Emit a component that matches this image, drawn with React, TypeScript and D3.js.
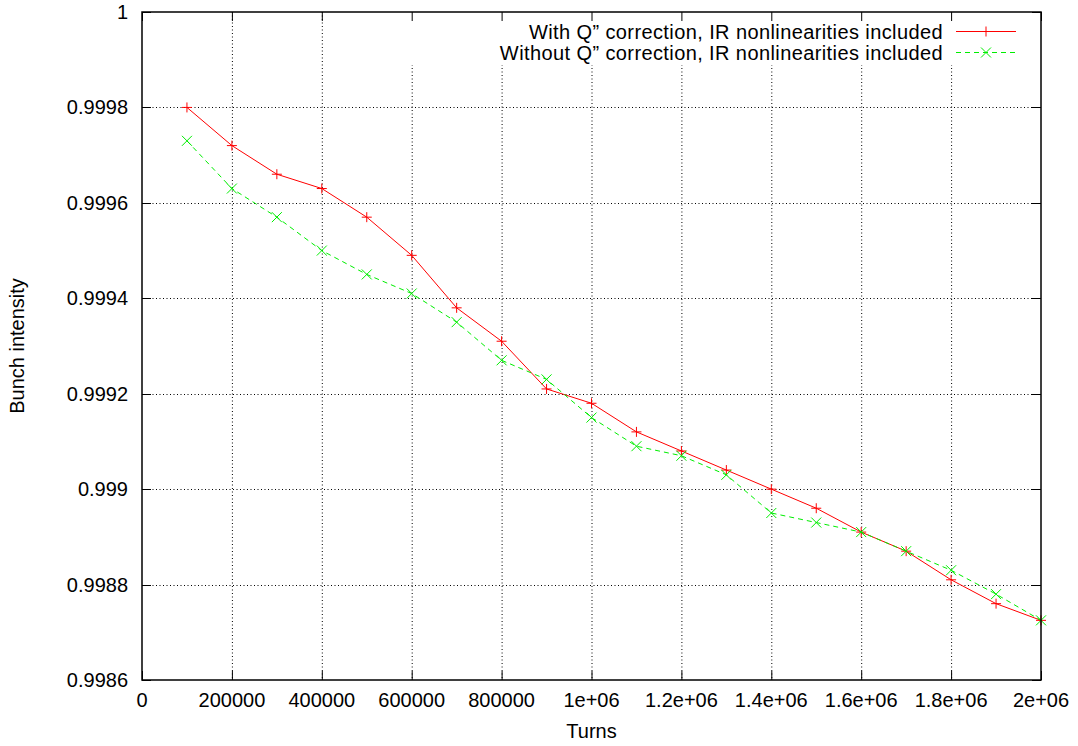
import React from 'react';
import * as d3 from 'd3';

// turns (x) for both runs
const turns = [
  100000, 200000, 300000, 400000, 500000, 600000, 700000, 800000, 900000, 1000000,
  1100000, 1200000, 1300000, 1400000, 1500000, 1600000, 1700000, 1800000, 1900000, 2000000,
];

// bunch intensity with Q'' correction
const withCorr = [
  0.99980, 0.99972, 0.99966, 0.99963, 0.99957, 0.99949, 0.99938, 0.99931, 0.99921, 0.99918,
  0.99912, 0.99908, 0.99904, 0.99900, 0.99896, 0.99891, 0.99887, 0.99881, 0.99876, 0.998725,
];

// bunch intensity without Q'' correction
const withoutCorr = [
  0.99973, 0.99963, 0.99957, 0.99950, 0.99945, 0.99941, 0.99935, 0.99927, 0.99923, 0.99915,
  0.99909, 0.99907, 0.99903, 0.99895, 0.99893, 0.99891, 0.99887, 0.99883, 0.99878, 0.998725,
];

const xTicks = [0, 200000, 400000, 600000, 800000, 1000000, 1200000, 1400000, 1600000, 1800000, 2000000];
const xTickLabels = ['0', '200000', '400000', '600000', '800000', '1e+06', '1.2e+06', '1.4e+06', '1.6e+06', '1.8e+06', '2e+06'];
const yTicks = [0.9986, 0.9988, 0.999, 0.9992, 0.9994, 0.9996, 0.9998, 1];
const yTickLabels = ['0.9986', '0.9988', '0.999', '0.9992', '0.9994', '0.9996', '0.9998', '1'];

const legendLabels = [
  'With Q\u201D correction, IR nonlinearities included',
  'Without Q\u201D correction, IR nonlinearities included',
];

const W = 1078;
const H = 746;
const left = 142, right = 1041, top = 12, bottom = 680;
const font = '"Liberation Sans", Arial, Helvetica, sans-serif';
const fs = 20;

export default function App() {
  const x = d3.scaleLinear().domain([0, 2000000]).range([left, right]);
  const y = d3.scaleLinear().domain([0.9986, 1]).range([bottom, top]);

  const redPts = turns.map((t, i) => [x(t), y(withCorr[i])] as [number, number]);
  const greenPts = turns.map((t, i) => [x(t), y(withoutCorr[i])] as [number, number]);
  const line = d3.line();

  const tick = 9;
  const plus = (cx: number, cy: number, c: string, k: string) => (
    <path key={k} d={`M${cx - 5},${cy}H${cx + 5}M${cx},${cy - 5}V${cy + 5}`} stroke={c} strokeWidth={1} fill="none" />
  );
  const cross = (cx: number, cy: number, c: string, k: string) => (
    <path key={k} d={`M${cx - 5},${cy - 5}L${cx + 5},${cy + 5}M${cx - 5},${cy + 5}L${cx + 5},${cy - 5}`} stroke={c} strokeWidth={1} fill="none" />
  );

  const keyX0 = 956, keyX1 = 1016;
  const keyY = [31.5, 52.5];

  return (
    <svg width={W} height={H} style={{ position: 'absolute', left: 0, top: 0, background: '#fff' }}
      fontFamily={font} fontSize={fs}>
      {/* grid */}
      <g stroke="#000" strokeWidth={1} strokeDasharray="1,2.5" fill="none">
        {xTicks.slice(1, -1).map((t) => (
          <line key={'gx' + t} x1={x(t) + 0.5} x2={x(t) + 0.5} y1={top} y2={bottom} />
        ))}
        {yTicks.slice(1, -1).map((t) => (
          <line key={'gy' + t} x1={left} x2={right} y1={Math.round(y(t)) + 0.5} y2={Math.round(y(t)) + 0.5} />
        ))}
      </g>
      {/* opaque key area */}
      <rect x={380} y={top} width={right - 380} height={53} fill="#fff" />

      {/* series */}
      <path d={line(redPts) || ''} stroke="#ff0000" strokeWidth={1} fill="none" />
      {redPts.map((p, i) => plus(p[0], p[1], '#ff0000', 'r' + i))}
      <path d={line(greenPts) || ''} stroke="#00ee00" strokeWidth={1} strokeDasharray="5,4" fill="none" />
      {greenPts.map((p, i) => cross(p[0], p[1], '#00ee00', 'g' + i))}

      {/* border + ticks */}
      <rect x={left} y={top} width={right - left} height={bottom - top} fill="none" stroke="#000" strokeWidth={1.5} />
      <g stroke="#000" strokeWidth={1}>
        {xTicks.map((t) => (
          <g key={'tx' + t}>
            <line x1={x(t) + 0.5} x2={x(t) + 0.5} y1={bottom} y2={bottom - tick} />
            <line x1={x(t) + 0.5} x2={x(t) + 0.5} y1={top} y2={top + tick} />
          </g>
        ))}
        {yTicks.map((t) => (
          <g key={'ty' + t}>
            <line x1={left} x2={left + tick} y1={Math.round(y(t)) + 0.5} y2={Math.round(y(t)) + 0.5} />
            <line x1={right} x2={right - tick} y1={Math.round(y(t)) + 0.5} y2={Math.round(y(t)) + 0.5} />
          </g>
        ))}
      </g>

      {/* tick labels */}
      {xTicks.map((t, i) => (
        <text key={'lx' + t} x={x(t)} y={bottom + 27} textAnchor="middle" fill="#000">{xTickLabels[i]}</text>
      ))}
      {yTicks.map((t, i) => (
        <text key={'ly' + t} x={128} y={y(t) + 7} textAnchor="end" fill="#000">{yTickLabels[i]}</text>
      ))}

      {/* axis titles */}
      <text x={(left + right) / 2} y={738} textAnchor="middle" fill="#000">Turns</text>
      <text transform={`translate(24,${(top + bottom) / 2}) rotate(-90)`} textAnchor="middle" fill="#000">Bunch intensity</text>

      {/* legend */}
      <g letterSpacing={0.4}>
        <text x={943} y={keyY[0] + 7} textAnchor="end" fill="#000">{legendLabels[0]}</text>
        <text x={943} y={keyY[1] + 7} textAnchor="end" fill="#000">{legendLabels[1]}</text>
      </g>
      <line x1={keyX0} x2={keyX1} y1={keyY[0]} y2={keyY[0]} stroke="#ff0000" strokeWidth={1} />
      {plus((keyX0 + keyX1) / 2, keyY[0], '#ff0000', 'kr')}
      <line x1={keyX0} x2={keyX1} y1={keyY[1]} y2={keyY[1]} stroke="#00ee00" strokeWidth={1} strokeDasharray="5,4" />
      {cross((keyX0 + keyX1) / 2, keyY[1], '#00ee00', 'kg')}
    </svg>
  );
}
